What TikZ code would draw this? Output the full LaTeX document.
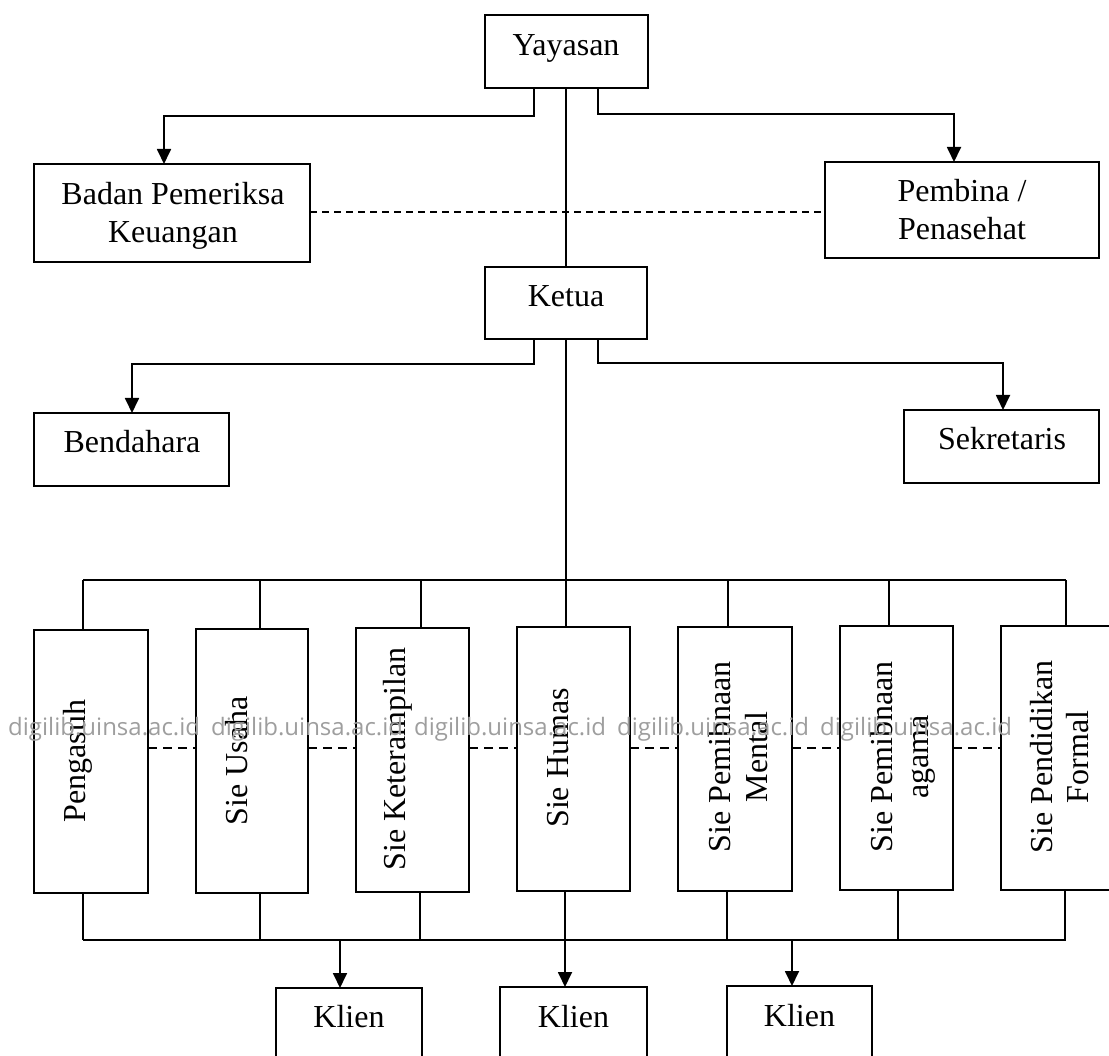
\documentclass[tikz,border=0pt]{standalone}
\usepackage{fontspec}
\setmainfont{Liberation Serif}
\newfontfamily\wmfont{Open Sans}
\usetikzlibrary{arrows.meta,calc}
\begin{document}
\begin{tikzpicture}[x=1pt,y=-1pt,
  box/.style={draw, line width=2.2pt, inner sep=0pt, outer sep=0pt},
  conn/.style={line width=1.8pt},
  arr/.style={conn, -{Triangle[width=14pt,length=15pt]}},
  dashA/.style={line width=1.8pt, dash pattern=on 7pt off 5pt},
  dashB/.style={line width=1.8pt, dash pattern=on 9pt off 6pt},
  lbl/.style={font=\fontsize{32}{37}\selectfont, anchor=base, inner sep=0pt},
  vlbl/.style={lbl, rotate=90},
  wm/.style={font=\wmfont\fontsize{24}{28}\selectfont, text=black!38, anchor=base west, inner sep=0pt}
]
\useasboundingbox (0,0) rectangle (1109,1056);

% boxes
\node[box, minimum width=163pt, minimum height=73pt] (yay) at (566.5,51.5) {};
\node[box, minimum width=276pt, minimum height=98pt] (bpk) at (172,213) {};
\node[box, minimum width=274pt, minimum height=96pt] (pem) at (962,210) {};
\node[box, minimum width=162pt, minimum height=72pt] (ket) at (566,303) {};
\node[box, minimum width=195pt, minimum height=73pt] (ben) at (131.5,449.5) {};
\node[box, minimum width=195pt, minimum height=73pt] (sek) at (1001.5,446.5) {};

\node[box, minimum width=114pt, minimum height=263pt] (v1) at (91,761.5) {};
\node[box, minimum width=112pt, minimum height=264pt] (v2) at (252,761) {};
\node[box, minimum width=113pt, minimum height=264pt] (v3) at (412.5,760) {};
\node[box, minimum width=113pt, minimum height=264pt] (v4) at (573.5,759) {};
\node[box, minimum width=114pt, minimum height=264pt] (v5) at (735,759) {};
\node[box, minimum width=113pt, minimum height=264pt] (v6) at (896.5,758) {};
\node[box, minimum width=113pt, minimum height=264pt] (v7) at (1057.5,758) {};

\node[box, minimum width=146pt, minimum height=80pt] (k1) at (349,1028) {};
\node[box, minimum width=147pt, minimum height=80pt] (k2) at (573.5,1027) {};
\node[box, minimum width=145pt, minimum height=80pt] (k3) at (799.5,1026) {};

% labels
\node[lbl] (tyay) at (566,56) {Yayasan};
\node[lbl] (tbpk1) at (173,205) {Badan Pemeriksa};
\node[lbl] (tbpk2) at (173,243) {Keuangan};
\node[lbl] (tpem1) at (962,202) {Pembina /};
\node[lbl] (tpem2) at (962,240) {Penasehat};
\node[lbl] (tket) at (566,307) {Ketua};
\node[lbl] (tben) at (132,453) {Bendahara};
\node[lbl] (tsek) at (1002,450) {Sekretaris};

\node[vlbl] (tv1) at (85,761) {Pengasuh};
\node[vlbl] (tv2) at (247,761) {Sie Usaha};
\node[vlbl] (tv3) at (405,759) {Sie Keterampilan};
\node[vlbl] (tv4) at (568,758) {Sie Humas};
\node[vlbl] (tv5a) at (730,757) {Sie Pemibnaan};
\node[vlbl] (tv5b) at (767,757) {Mental};
\node[vlbl] (tv6a) at (892,757) {Sie Pemibnaan};
\node[vlbl] (tv6b) at (928,757) {agama};
\node[vlbl] (tv7a) at (1052,757) {Sie Pendidikan};
\node[vlbl] (tv7b) at (1088,757) {Formal};

\node[lbl] (tk1) at (349,1027) {Klien};
\node[lbl] (tk2) at (573.5,1027) {Klien};
\node[lbl] (tk3) at (799.5,1026) {Klien};

% connectors from Yayasan
\coordinate (e1) at (534,116); \coordinate (e2) at (164,116);
\coordinate (e3) at (598,114); \coordinate (e4) at (954,114);
\draw[arr] (e1 |- yay.south) -- (e1) -- (e2) -- (e2 |- bpk.north);
\draw[arr] (e3 |- yay.south) -- (e3) -- (e4) -- (e4 |- pem.north);
\draw[conn] (ket.north |- yay.south) -- (ket.north);
\draw[dashA] (bpk.east |- 0,212) -- (pem.west |- 0,212);

% connectors from Ketua
\coordinate (f1) at (534,364); \coordinate (f2) at (132,364);
\coordinate (f3) at (598,363); \coordinate (f4) at (1003,363);
\draw[arr] (f1 |- ket.south) -- (f1) -- (f2) -- (f2 |- ben.north);
\draw[arr] (f3 |- ket.south) -- (f3) -- (f4) -- (f4 |- sek.north);
\coordinate (tbus) at (566,580);
\draw[conn] (ket.south) -- (tbus);

% top bus
\draw[conn] (83,580) -- (1066,580);
\foreach \xx/\n in {83/v1,260/v2,421/v3,566/v4,728/v5,889/v6,1066/v7}{
  \coordinate (t\n) at (\xx,580);
  \draw[conn] (t\n) -- (t\n |- \n.north);
}
% bottom bus
\draw[conn] (83,940) -- (1066,940);
\foreach \xx/\n in {83/v1,260/v2,420/v3,727/v5,898/v6,1065/v7}{
  \coordinate (b\n) at (\xx,940);
  \draw[conn] (b\n |- \n.south) -- (b\n);
}
\coordinate (bv4) at (565,940);
\coordinate (ka) at (340,940);
\coordinate (kc) at (792,940);
\draw[arr] (bv4 |- v4.south) -- (bv4 |- k2.north);
\draw[arr] (ka) -- (ka |- k1.north);
\draw[arr] (kc) -- (kc |- k3.north);

% dashed links between sections
\coordinate (dl) at (0,748);
\foreach \a/\b in {v1/v2,v2/v3,v3/v4,v4/v5,v5/v6,v6/v7}{
  \draw[dashB] (\a.east |- dl) -- (\b.west |- dl);
}

% watermark
\foreach \k in {0,...,4}{
  \node[wm] (wm\k) at ({8+203*\k},735) {digilib.uinsa.ac.id};
}
\end{tikzpicture}
\end{document}
